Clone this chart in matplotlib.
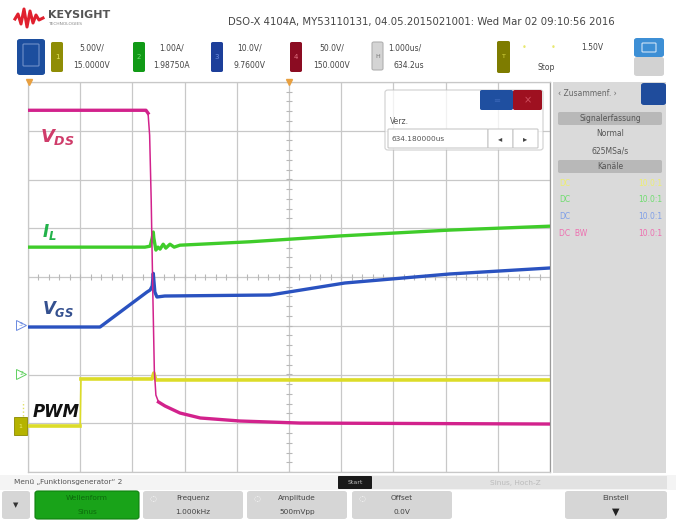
import matplotlib
matplotlib.use("Agg")
import matplotlib.pyplot as plt
from matplotlib.patches import FancyBboxPatch, Rectangle
from matplotlib.transforms import blended_transform_factory
import numpy as np

plt.rcParams['font.family'] = ['DejaVu Sans']
plt.rcParams['mathtext.fontset'] = 'custom'
plt.rcParams['mathtext.it'] = 'DejaVu Sans:italic:bold'
plt.rcParams['mathtext.rm'] = 'DejaVu Sans:italic:bold'

W, H = 676, 520

# ---- acquisition settings (per channel: scale per division, offset) ----
time_per_div = 1.0          # us/div
time_delay = 634.2          # us at screen centre
ch_scale = {1: 5.0, 2: 1.0, 3: 10.0, 4: 50.0}
ch_offset = {1: 15.0, 2: 1.9875, 3: 9.76, 4: 150.0}
trigger_level = 1.5         # V on channel 1

# ---- captured waveforms (time in us) ----
pwm_t = [629.20, 630.20, 630.215, 631.575, 631.61, 631.65, 639.20]
pwm_v = [-0.28, -0.28, 4.54, 4.54, 5.15, 4.44, 4.44]

il_t = [629.20, 631.44, 631.54, 631.58, 631.60, 631.61, 631.65, 631.69, 631.73,
        631.79, 631.84, 631.92, 632.00, 632.11, 632.50, 633.45, 635.18, 637.28, 639.20]
il_a = [2.60, 2.60, 2.62, 2.79, 2.91, 2.79, 2.54, 2.60, 2.56,
        2.66, 2.58, 2.66, 2.60, 2.64, 2.66, 2.71, 2.83, 2.95, 3.03]

vgs_t = [629.20, 630.58, 631.48, 631.54, 631.58, 631.60, 631.63, 631.67, 631.82,
         633.84, 635.27, 637.28, 639.20]
vgs_v = [-0.50, -0.50, 6.68, 7.09, 7.91, 10.5, 6.68, 5.66, 5.86,
         6.07, 8.53, 10.38, 11.61]

vds_t = [629.20, 631.46, 631.50, 631.53, 631.56, 631.59, 631.62, 631.65, 631.70,
         631.825, 632.11, 632.50, 633.26, 634.41, 639.20]
vds_v = [321.0, 321.0, 318.0, 295.6, 229.0, 136.7, 54.6, 28.9, 21.8,
         17.7, 10.5, 5.4, 2.3, 0.2, -0.8]

# ---- screen text ----
title_line = "DSO-X 4104A, MY53110131, 04.05.2015021001: Wed Mar 02 09:10:56 2016"
ch_labels = [("5.00V/", "15.0000V"), ("1.00A/", "1.98750A"),
             ("10.0V/", "9.7600V"), ("50.0V/", "150.000V")]
horiz_labels = ("1.000us/", "634.2us")
panel_rows = [("DC", "10.0:1"), ("DC", "10.0:1"), ("DC", "10.0:1"), ("DC  BW", "10.0:1")]
softkeys = [("Frequenz", "1.000kHz"), ("Amplitude", "500mVpp"), ("Offset", "0.0V")]

col_pwm = '#dcdc28'
col_il = '#3fcc2a'
col_vgs = '#2a52c0'
col_vds = '#d2228c'

fig = plt.figure(figsize=(W / 100, H / 100), dpi=100)
fig.patch.set_facecolor('white')


def fx(x):
    return x / W


def fy(y):
    return 1 - y / H


def T(x, y, s, size=5.5, color='#444444', ha='center', va='center', z=10, **kw):
    fig.text(fx(x), fy(y), s, fontsize=size, color=color, ha=ha, va=va,
             zorder=z, **kw)


def box(x0, y0, x1, y1, fc, ec='none', r=2, lw=0.8, alpha=1.0, z=1):
    p = FancyBboxPatch((fx(x0), fy(y1)), fx(x1 - x0), (y1 - y0) / H,
                       boxstyle=f"round,pad=0,rounding_size={r / W}",
                       transform=fig.transFigure, fc=fc, ec=ec, lw=lw,
                       alpha=alpha, zorder=z)
    fig.patches.append(p)


# ---------------- header ----------------
logo_x = [15, 18, 21, 24, 27, 30, 33, 36, 39, 43]
logo_y = [19, 14, 24, 9, 27, 11, 23, 15, 20, 18]
fig.add_artist(plt.Line2D([fx(v) for v in logo_x], [fy(v) for v in logo_y],
                          transform=fig.transFigure, color='#e0202e', lw=2.2))
T(48, 15, "KEYSIGHT", size=8, color='#555555', ha='left', weight='bold')
T(48, 24, "TECHNOLOGIES", size=3.2, color='#888888', ha='left')
T(228, 22, title_line, size=7.3, color='#444444', ha='left')

# display mode tile
box(17, 39, 45, 75, '#1c4e9e', r=3)
box(23, 44, 39, 66, 'none', ec='#6f8fc8', r=1, lw=0.8)

ch_boxes = [(51, '#8f8d05', '#e8e860', '1'), (133, '#119a16', '#70e070', '2'),
            (211, '#1d3f9a', '#7090e0', '3'), (290, '#8b0c22', '#e07080', '4')]
ch_text_x = [92, 172, 250, 332]
for (bx, fc, tc, n), (l1, l2), tx in zip(ch_boxes, ch_labels, ch_text_x):
    box(bx, 42, bx + 12, 72, fc, r=2)
    T(bx + 6, 57, n, size=5, color=tc)
    T(tx, 48, l1)
    T(tx, 66, l2)

box(372, 42, 383, 70, '#d4d4d4', ec='#b0b0b0', r=2)
T(377.5, 56, "H", size=4.5, color='#777777')
T(405, 48, horiz_labels[0])
T(393, 66, horiz_labels[1], ha='left')

box(497, 41, 510, 73, '#7e7c00', r=2)
T(503.5, 57, "T", size=4.5, color='#d8d840')
T(524, 47, "\u2022", size=6, color='#e8e870')
T(553, 47, "\u2022", size=6, color='#e8e870')
T(592, 47, "1.50V")
T(546, 67, "Stop")

box(634, 38, 664, 57, '#3d8fd5', r=3)
box(634, 57, 664, 76, '#d2d2d2', r=3)
box(642, 43, 656, 52, 'none', ec='#cde3f7', r=1, lw=0.8)

# ---------------- graticule ----------------
gx0, gx1, gy0, gy1 = 28, 550, 82, 472
rect = [fx(gx0), fy(gy1), fx(gx1 - gx0), (gy1 - gy0) / H]
ax = fig.add_axes(rect)
t_lo = time_delay - 5 * time_per_div
t_hi = time_delay + 5 * time_per_div
ax.set_xlim(t_lo, t_hi)
ax.set_ylim(-4, 4)
ax.set_xticks(np.arange(t_lo, t_hi + 0.01, time_per_div))
ax.set_yticks(np.arange(-4, 5, 1))
ax.grid(True, color='#c8c8c8', lw=0.9)
ax.tick_params(length=0, labelbottom=False, labelleft=False)
for s in ax.spines.values():
    s.set_color('#c8c8c8')
    s.set_linewidth(0.9)
ax.spines['right'].set_color('#9a9a9a')
ax.set_facecolor('white')
ax.set_axisbelow(True)

# centre-line sub-division ticks
sub_y = np.arange(-4, 4.01, 0.2)
ax.plot(np.full_like(sub_y, time_delay), sub_y, ls='none', marker='_',
        ms=4, mew=0.8, color='#b8b8b8')
sub_x = np.arange(t_lo, t_hi + 0.01, 0.2)
ax.plot(sub_x, np.zeros_like(sub_x), ls='none', marker='|',
        ms=4, mew=0.8, color='#b8b8b8')

# trigger position markers along the top
top_tr = blended_transform_factory(ax.transData, ax.transAxes)
ax.plot([t_lo + 0.02, time_delay], [1.0, 1.0], transform=top_tr, ls='none',
        marker='v', ms=4, color='#e8a040', clip_on=False, zorder=5)


def channel_axes(ch):
    a = fig.add_axes(rect, sharex=ax)
    a.set_ylim(ch_offset[ch] - 4 * ch_scale[ch], ch_offset[ch] + 4 * ch_scale[ch])
    a.patch.set_alpha(0)
    a.axis('off')
    return a


ax1 = channel_axes(1)
ax1.plot(pwm_t[:3], pwm_v[:3], color=col_pwm, lw=1.2)
ax1.plot(pwm_t[2:], pwm_v[2:], color=col_pwm, lw=2.6)
ax1.plot(pwm_t[:2], pwm_v[:2], color=col_pwm, lw=2.6)
ax2 = channel_axes(2)
ax2.plot(il_t, il_a, color=col_il, lw=2.4)
ax3 = channel_axes(3)
ax3.plot(vgs_t, vgs_v, color=col_vgs, lw=2.4)
ax4 = channel_axes(4)
ax4.plot(vds_t[:3], vds_v[:3], color=col_vds, lw=2.4)
ax4.plot(vds_t[2:9], vds_v[2:9], color=col_vds, lw=1.1)
ax4.plot(vds_t[8:], vds_v[8:], color=col_vds, lw=2.4)

# ground reference markers left of the graticule
for a, col, n in [(ax3, '#6a8ae0', '3'), (ax2, '#60d060', '2')]:
    tr = blended_transform_factory(fig.transFigure, a.transData)
    a.plot([fx(21)], [0.0], transform=tr, marker='>', ms=7, mfc='none',
           mec=col, mew=0.7, ls='none', clip_on=False)
    a.text(fx(21), 0.0, n, transform=tr, fontsize=4.5, color=col,
           ha='center', va='center', clip_on=False)
tr1 = blended_transform_factory(fig.transFigure, ax1.transData)
ax1.add_patch(Rectangle((fx(14), -1.2), fx(13), 1.8, transform=tr1,
                        fc='#b5b300', ec='#8a8800', lw=0.6, clip_on=False))
ax1.text(fx(20.5), -0.3, "1", transform=tr1, fontsize=4.5, color='#f0f070',
         ha='center', va='center', clip_on=False)
ax1.plot([fx(23), fx(23)], [trigger_level - 0.8, trigger_level + 0.8],
         transform=tr1, ls=':', lw=1.0, color='#e0e060', clip_on=False)

# trace names
T(40, 137, r'$V_{DS}$', size=13, color='#cf3c6a', ha='left')
T(42, 232, r'$I_{L}$', size=12, color='#22b24a', ha='left')
T(42, 309, r'$V_{GS}$', size=12, color='#34508f', ha='left')
T(33, 412, 'PWM', size=12, color='#111111', ha='left', weight='bold', style='italic')

# delay entry dialog (translucent)
box(385, 90, 543, 150, 'white', ec='#c0c0c0', r=3, alpha=0.75, z=3)
box(480, 90, 513, 110, '#1f4fa0', r=2, z=4)
box(513, 90, 542, 110, '#9e1020', r=2, z=4)
T(527.5, 100, "\u00d7", size=7, color='#d05060', z=11)
T(496.5, 100, "\u2261", size=6, color='#3a66b8', z=11)
T(390, 121, "Verz.", size=5.5, color='#555555', ha='left', z=11)
box(388, 129, 488, 148, 'white', ec='#c8c8c8', r=1, z=4)
T(391, 139, "634.180000us", size=5.3, color='#555555', ha='left', z=11)
box(488, 129, 513, 148, 'white', ec='#c8c8c8', r=1, z=4)
box(513, 129, 538, 148, 'white', ec='#c8c8c8', r=1, z=4)
T(500.5, 139, "\u25c2", size=6, color='#444444', z=11)
T(525.5, 139, "\u25b8", size=6, color='#444444', z=11)

# ---------------- side panel ----------------
box(553, 82, 666, 473, '#dadada', r=0)
T(558, 94, "\u2039 Zusammenf. \u203a", size=5.5, color='#666666', ha='left')
box(641, 83, 666, 105, '#1f4c9c', r=3)
box(558, 112, 662, 125, '#b8b8b8', r=2)
T(610, 118.5, "Signalerfassung", size=5.5, color='#555555')
T(610, 134, "Normal", size=5.5, color='#555555')
T(610, 151, "625MSa/s", size=5.5, color='#555555')
box(558, 160, 662, 173, '#b8b8b8', r=2)
T(610, 166.5, "Kan\u00e4le", size=5.5, color='#555555')
row_cols = ['#eeee70', '#70dd70', '#7f9fe8', '#ee6fb0']
for i, ((l, r), c) in enumerate(zip(panel_rows, row_cols)):
    yy = 183 + i * 16.7
    T(559, yy, l, size=5.5, color=c, ha='left')
    T(662, yy, r, size=5.5, color=c, ha='right')

# ---------------- status line and softkeys ----------------
box(0, 475, 676, 490, '#f4f4f4', r=0)
T(14, 482, "Men\u00fc \u201eFunktionsgenerator\u201c 2", size=5.3, color='#555555', ha='left')
box(338, 476, 372, 489, '#1a1a1a', r=1)
T(355, 482.5, "Start", size=4.5, color='#bbbbbb')
box(372, 476, 667, 489, '#e2e2e2', r=0)
T(515, 482.5, "Sinus, Hoch-Z", size=5.3, color='#bbbbbb')

box(2, 491, 30, 519, '#d6d6d6', r=3)
T(16, 505, "\u25bc", size=5, color='#333333')
box(35, 491, 139, 519, '#19a319', ec='#0f800f', r=3)
T(87, 498, "Wellenform", size=5.3, color='#0c6a0c')
T(87, 512, "Sinus", size=5.3, color='#0c6a0c')
for (l1, l2), x0 in zip(softkeys, [143, 247, 352]):
    box(x0, 491, x0 + 100, 519, '#d6d6d6', r=3)
    T(x0 + 10, 498, "\u25cc", size=6, color='#ffffff')
    T(x0 + 50, 498, l1, size=5.3, color='#444444')
    T(x0 + 50, 512, l2, size=5.3, color='#444444')
box(565, 491, 667, 519, '#d6d6d6', r=3)
T(616, 498, "Einstell", size=5.3, color='#444444')
T(616, 512, "\u25bc", size=7, color='#222222')

fig.savefig("out.png", dpi=100, facecolor='white')
